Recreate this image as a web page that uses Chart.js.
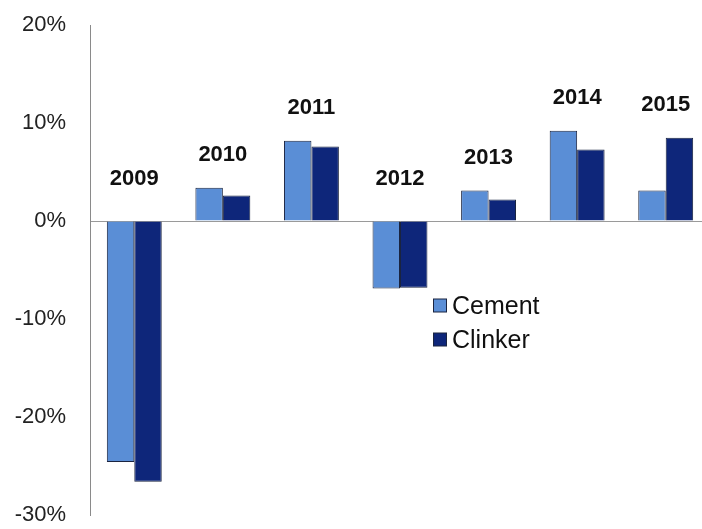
<!DOCTYPE html>
<html>
<head>
<meta charset="utf-8">
<script src="https://cdn.jsdelivr.net/npm/chart.js@4.4.1/dist/chart.umd.min.js"></script>
<style>
html,body{margin:0;padding:0;background:#fff;overflow:hidden;width:702px;height:529px;}
#wrap{width:712px;height:529px;position:relative;}
canvas{display:block;}
</style>
</head>
<body>
<div id="wrap"><canvas id="c" width="712" height="529"></canvas></div>
<script>
const categories = ['2009','2010','2011','2012','2013','2014','2015'];
const cement  = [-24.6, 3.4, 8.2, -6.9, 3.1, 9.2, 3.1];
const clinker = [-26.6, 2.6, 7.6, -6.8, 2.2, 7.3, 8.5];
const yTicks = [-30, -20, -10, 0, 10, 20];

const FONT = '"Liberation Sans", Arial, sans-serif';

const yearLabels = {
  id: 'yearLabels',
  afterDatasetsDraw(chart) {
    const ctx = chart.ctx;
    const ys = chart.scales.y;
    const m0 = chart.getDatasetMeta(0), m1 = chart.getDatasetMeta(1);
    ctx.save();
    ctx.font = 'bold 22px ' + FONT;
    ctx.fillStyle = '#111';
    ctx.textAlign = 'center';
    ctx.textBaseline = 'middle';
    categories.forEach((c, i) => {
      const top = Math.max(cement[i], clinker[i], 0);
      const x = (m0.data[i].x + m1.data[i].x) / 2;
      const off = top > 0 ? 33 : 42;
      ctx.fillText(c, x, ys.getPixelForValue(top) - off);
    });
    ctx.restore();
  }
};

const customLegend = {
  id: 'customLegend',
  afterDraw(chart) {
    const ctx = chart.ctx;
    ctx.save();
    ctx.font = '25px ' + FONT;
    ctx.textBaseline = 'middle';
    ctx.textAlign = 'left';
    chart.data.datasets.forEach((ds, i) => {
      const y = 306 + i * 34;
      ctx.fillStyle = ds.backgroundColor;
      ctx.fillRect(433.5, y - 7, 13, 13);
      ctx.strokeStyle = '#1a2440';
      ctx.lineWidth = 1;
      ctx.strokeRect(433.5, y - 7, 13, 13);
      ctx.fillStyle = '#111';
      ctx.fillText(ds.label, 452, y + 1);
    });
    ctx.restore();
  }
};

new Chart(document.getElementById('c'), {
  type: 'bar',
  data: {
    labels: categories,
    datasets: [
      { label: 'Cement', data: cement, backgroundColor: '#5A8ED6', borderColor: '#1a2440', borderWidth: 1 },
      { label: 'Clinker', data: clinker, backgroundColor: '#0E267A', borderColor: '#1a2440', borderWidth: 1 }
    ]
  },
  options: {
    responsive: false,
    animation: false,
    devicePixelRatio: 1,
    layout: { padding: { left: 0, right: 2, top: 25, bottom: 14 } },
    datasets: { bar: { categoryPercentage: 0.62, barPercentage: 1.0 } },
    plugins: { legend: { display: false }, tooltip: { enabled: false } },
    scales: {
      x: { display: false, offset: true },
      y: {
        min: -30, max: 20,
        afterFit(s) { s.width = 90; s.paddingTop = 0; s.paddingBottom = 0; },
        afterBuildTicks(s) { s.ticks = yTicks.map(v => ({ value: v })); },
        ticks: {
          padding: 24,
          color: '#222',
          font: { family: FONT, size: 22 },
          callback: v => v + '%'
        },
        border: { display: true, color: '#8a8a8a', width: 1 },
        grid: {
          drawTicks: false,
          color: ctx => (ctx.tick && ctx.tick.value === 0) ? '#9a9a9a' : 'rgba(0,0,0,0)',
          lineWidth: 1
        }
      }
    }
  },
  plugins: [yearLabels, customLegend]
});
</script>
</body>
</html>
